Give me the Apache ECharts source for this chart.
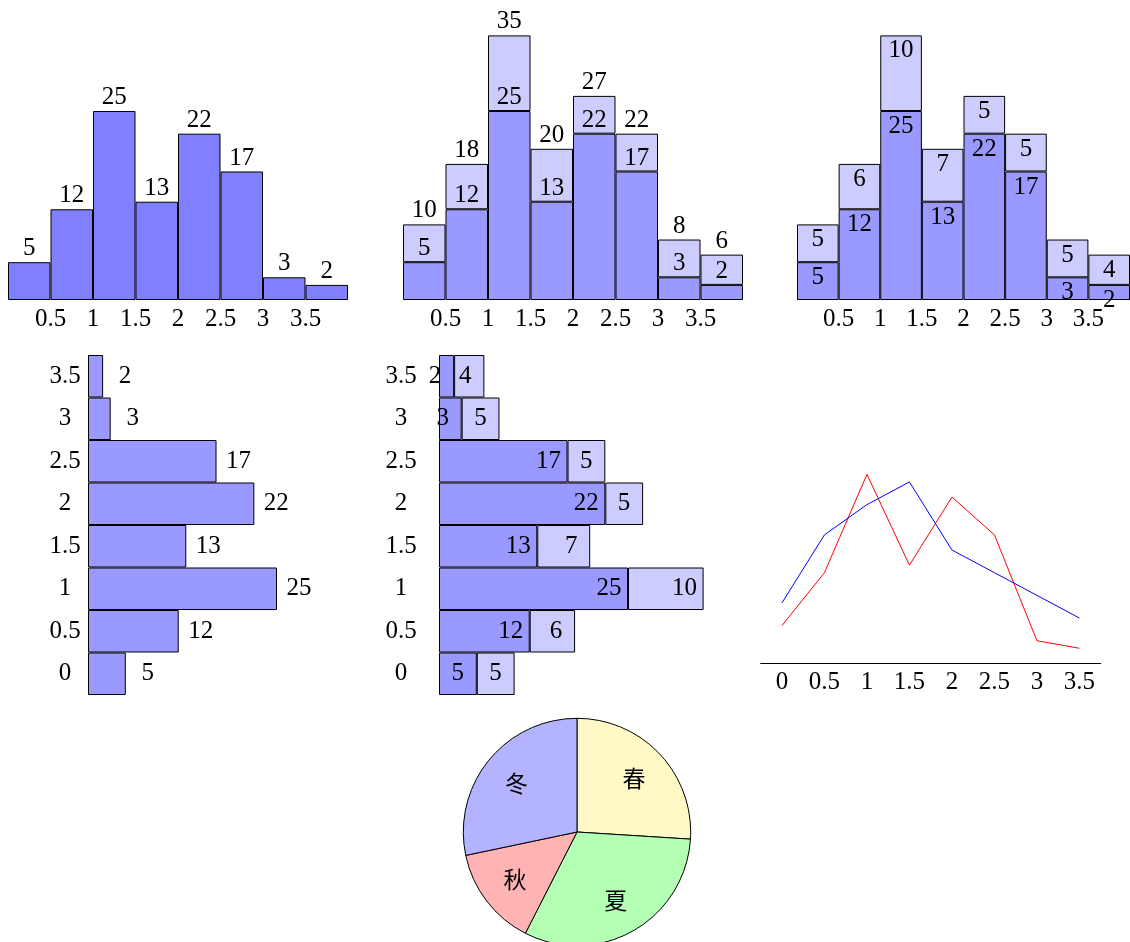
<!DOCTYPE html>
<html>
<head>
<meta charset="UTF-8">
<title></title>
<script src="https://cdn.jsdelivr.net/npm/echarts@6/dist/echarts.min.js"></script>
<style>
  body { margin: 0; background: #fff; }
  #main { width: 1130px; height: 942px; }
</style>
</head>
<body>
<div id="main"></div>
<script type="text/javascript">
// data
var bins = ['0', '0.5', '1', '1.5', '2', '2.5', '3', '3.5'];
var countA = [5, 12, 25, 13, 22, 17, 3, 2];   // 下层
var countB = [5, 6, 10, 7, 5, 5, 5, 4];       // 上层
var lineRed = [5, 12, 25, 13, 22, 17, 3, 2];
var lineBlue = [8, 17, 21, 24, 15, 12, 9, 6];
var seasons = ['春', '夏', '秋', '冬'];
var seasonShare = [26, 31.5, 14.2, 28.3];

var FONT = 'Liberation Serif';
var txt = { color: '#000', fontFamily: FONT, fontSize: 25 };
var border = { borderColor: '#000', borderWidth: 1 };
var C1 = '#8080ff', C2 = '#9999ff', C3 = '#ccccff';

var myChart = echarts.init(document.getElementById('main'));

function vGrid(left) {
  return { left: left, top: 35.4, width: 340, height: 264.6 };
}
function catX(g) {
  return { type: 'category', gridIndex: g, data: bins, position: 'bottom', show: false };
}
// 刻度在区间边界上，用数值轴显示
function tickX(g) {
  return {
    type: 'value', gridIndex: g, position: 'bottom', min: 0, max: 4, interval: 0.5,
    axisLine: { show: false }, axisTick: { show: false }, splitLine: { show: false },
    axisLabel: Object.assign({ showMinLabel: false, showMaxLabel: false, margin: 7 }, txt)
  };
}
function valY(g) {
  return { type: 'value', gridIndex: g, min: 0, max: 35, show: false };
}
function catY(g, margin) {
  return {
    type: 'category', gridIndex: g, data: bins,
    axisLine: { show: false }, axisTick: { show: false },
    axisLabel: Object.assign({ align: 'center', margin: margin }, txt)
  };
}

var option = {
  animation: false,
  grid: [
    vGrid(8), vGrid(403), vGrid(797),
    { left: 88, top: 355, width: 264.6, height: 340 },
    { left: 439, top: 355, width: 264.6, height: 340 },
    { left: 760.7, top: 398.8, width: 340, height: 264.6 }
  ],
  xAxis: [
    catX(0), catX(1), catX(2),
    tickX(0), tickX(1), tickX(2),
    { type: 'value', gridIndex: 3, min: 0, max: 35, show: false },
    { type: 'value', gridIndex: 4, min: 0, max: 35, show: false },
    {
      type: 'category', gridIndex: 5, data: bins, boundaryGap: true,
      axisLine: { lineStyle: { color: '#000', width: 1 } }, axisTick: { show: false },
      axisLabel: Object.assign({ margin: 7 }, txt)
    }
  ],
  yAxis: [
    valY(0), valY(1), valY(2),
    catY(3, 23), catY(4, 38),
    valY(5)
  ],
  series: [
    // 1
    {
      type: 'bar', xAxisIndex: 0, yAxisIndex: 0, barCategoryGap: '0%',
      itemStyle: Object.assign({ color: C1 }, border),
      label: Object.assign({ show: true, position: 'top', distance: 1 }, txt),
      data: countA
    },
    // 2
    {
      type: 'bar', xAxisIndex: 1, yAxisIndex: 1, stack: 's2', barCategoryGap: '0%',
      itemStyle: Object.assign({ color: C2 }, border),
      label: Object.assign({ show: true, position: 'top', distance: 1 }, txt),
      data: countA
    },
    {
      type: 'bar', xAxisIndex: 1, yAxisIndex: 1, stack: 's2', barCategoryGap: '0%',
      itemStyle: Object.assign({ color: C3 }, border),
      label: Object.assign({
        show: true, position: 'top', distance: 1,
        formatter: function (p) { return p.value + countA[p.dataIndex]; }
      }, txt),
      data: countB
    },
    // 3
    {
      type: 'bar', xAxisIndex: 2, yAxisIndex: 2, stack: 's3', barCategoryGap: '0%',
      itemStyle: Object.assign({ color: C2 }, border),
      label: Object.assign({ show: true, position: 'insideTop', distance: 3 }, txt),
      data: countA
    },
    {
      type: 'bar', xAxisIndex: 2, yAxisIndex: 2, stack: 's3', barCategoryGap: '0%',
      itemStyle: Object.assign({ color: C3 }, border),
      label: Object.assign({ show: true, position: 'insideTop', distance: 3 }, txt),
      data: countB
    },
    // 4
    {
      type: 'bar', xAxisIndex: 6, yAxisIndex: 3, barCategoryGap: '0%',
      itemStyle: Object.assign({ color: C2 }, border),
      label: Object.assign({
        show: true, position: ['100%', '50%'], offset: [22, 0],
        align: 'center', verticalAlign: 'middle'
      }, txt),
      data: countA
    },
    // 5
    {
      type: 'bar', xAxisIndex: 7, yAxisIndex: 4, stack: 's5', barCategoryGap: '0%',
      itemStyle: Object.assign({ color: C2 }, border),
      label: Object.assign({
        show: true, position: ['100%', '50%'], offset: [-19, 0],
        align: 'center', verticalAlign: 'middle'
      }, txt),
      data: countA
    },
    {
      type: 'bar', xAxisIndex: 7, yAxisIndex: 4, stack: 's5', barCategoryGap: '0%',
      itemStyle: Object.assign({ color: C3 }, border),
      label: Object.assign({
        show: true, position: ['100%', '50%'], offset: [-19, 0],
        align: 'center', verticalAlign: 'middle'
      }, txt),
      data: countB
    },
    // 6
    {
      type: 'line', xAxisIndex: 8, yAxisIndex: 5, showSymbol: false,
      lineStyle: { color: '#ff0000', width: 1 }, data: lineRed
    },
    {
      type: 'line', xAxisIndex: 8, yAxisIndex: 5, showSymbol: false,
      lineStyle: { color: '#0000ff', width: 1 }, data: lineBlue
    },
    // 饼图
    {
      type: 'pie', center: [577, 832], radius: 113.7, startAngle: 90,
      label: { show: false }, labelLine: { show: false },
      itemStyle: { borderColor: '#000', borderWidth: 1 },
      data: seasons.map(function (s, i) {
        return { name: s, value: seasonShare[i],
          itemStyle: { color: ['#fff9c5', '#b3ffb3', '#ffb3b3', '#b3b3ff'][i] } };
      })
    },
    {
      // 只用于放文字
      type: 'pie', center: [577, 832], radius: [36.4, 113.7], startAngle: 90, silent: true,
      itemStyle: { color: 'rgba(0,0,0,0)' },
      label: { show: true, position: 'inside', color: '#000', fontSize: 23, fontFamily: 'Noto Sans CJK SC', formatter: '{b}' },
      labelLine: { show: false },
      data: seasons.map(function (s, i) { return { name: s, value: seasonShare[i] }; })
    }
  ]
};
myChart.setOption(option);
</script>
</body>
</html>
